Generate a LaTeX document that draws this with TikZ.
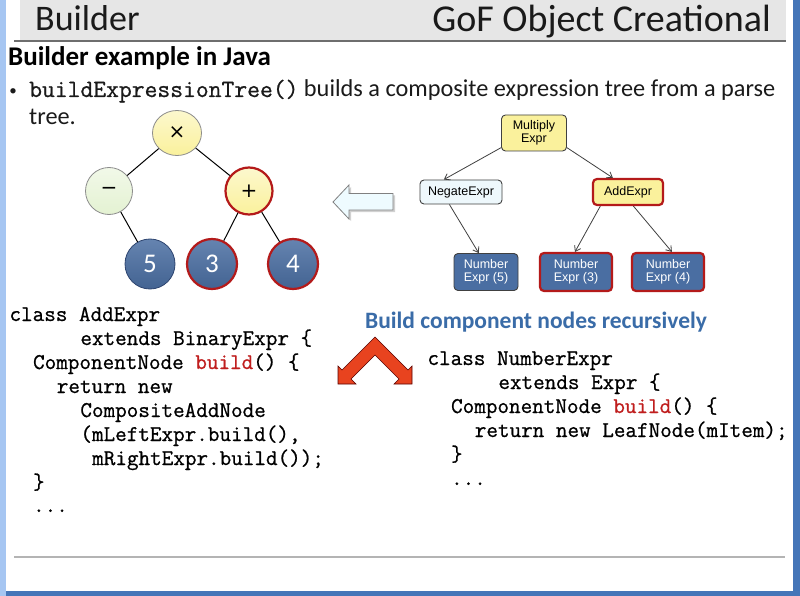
\documentclass[tikz,border=0pt]{standalone}
\usepackage{fontspec}
\setmainfont{Carlito}
\newfontfamily\monof[FakeBold=0.8]{Latin Modern Mono}
\newfontfamily\arialf{Liberation Sans}
\newfontfamily\symf{DejaVu Sans}
\usetikzlibrary{arrows.meta,shapes.geometric}
\definecolor{framelight}{HTML}{A6C6F2}
\definecolor{framedark}{HTML}{4575B8}
\definecolor{titlegray}{HTML}{E6E6E6}
\definecolor{ruledark}{HTML}{6E6E6E}
\definecolor{bottomrule}{HTML}{B4B4B4}
\definecolor{headblue}{HTML}{3A6CA8}
\definecolor{codered}{HTML}{C01E1E}
\definecolor{nodeyellow}{HTML}{FAF19C}
\definecolor{nodegreen}{HTML}{E4F2D2}
\definecolor{nodeblue}{HTML}{4A6EA2}
\definecolor{nodeblueedge}{HTML}{2E4570}
\definecolor{hired}{HTML}{B41A1A}
\definecolor{boxpale}{HTML}{EEF8FC}
\definecolor{hollowfill}{HTML}{EEFBFF}
\definecolor{chevron}{HTML}{E8431F}
\definecolor{textblack}{HTML}{1A1A1A}
\begin{document}
\begin{tikzpicture}[x=1pt,y=-1pt,
  txt/.style={anchor=base west, inner sep=0, text=textblack},
  code/.style={anchor=base west, inner sep=0, text=black, font=\monof\fontsize{22.5}{24}\selectfont},
  circ/.style={circle, minimum size=47, inner sep=0, draw=black!45, line width=0.8},
  ycirc/.style={circ, top color=nodeyellow!50!white, bottom color=nodeyellow, font=\symf\fontsize{20}{22}\selectfont},
  gcirc/.style={circ, top color=nodegreen!50!white, bottom color=nodegreen, font=\symf\fontsize{20}{22}\selectfont},
  bcirc/.style={circ, minimum size=50, top color=nodeblue!85!white, bottom color=nodeblue!90!black, draw=nodeblueedge, text=white, font=\fontsize{27}{28}\selectfont},
  hi/.style={draw=hired, line width=2.2},
  treeline/.style={draw=black, line width=1},
  rbox/.style={rectangle, rounded corners=4, draw=black!75, line width=0.9, align=center, inner sep=0, font=\arialf\fontsize{12.5}{13}\selectfont},
  tarrow/.style={draw=black!75, line width=0.8, -{Straight Barb[length=5pt,width=7pt]}}
]
\useasboundingbox (0,0) rectangle (800,596);
% frame and slide
\fill[framedark] (0,0) rectangle (800,596);
\fill[framelight] (0,0) rectangle (6,596);
\fill[white] (6,0) rectangle (793,591);
\fill[titlegray] (20,0) rectangle (786,40);
\draw[ruledark, line width=1.5] (14,41) -- (786,41);
\draw[bottomrule, line width=2] (14,557) -- (785,557);

% titles
\node[txt, font=\fontsize{36}{40}\selectfont] (title) at (35,31) {Builder};
\node[txt, anchor=base east, font=\fontsize{38}{40}\selectfont] (category) at (771,32) {GoF Object Creational};
\node[txt, font=\bfseries\fontsize{27}{30}\selectfont, text=black] (sub) at (8,66) {Builder example in Java};
\node[anchor=base, inner sep=0, font=\fontsize{15}{18}\selectfont, text=textblack] (bullet) at (13,96) {•};
\node[txt, font=\fontsize{24.3}{28}\selectfont] (line1) at (29,97) {{\monof\fontsize{24.9}{26}\selectfont buildExpressionTree()} builds a composite expression tree from a parse};
\node[txt, font=\fontsize{24.3}{28}\selectfont] (line2) at (29,125) {tree.};

% expression tree (circles)
\node[ycirc, ellipse, minimum width=49, minimum height=45] (tmul) at (177,133) {×};
\node[gcirc] (tneg) at (109,191) {−};
\node[ycirc, hi] (tadd) at (249,191) {+};
\node[bcirc] (t5) at (150,264) {5};
\node[bcirc, hi] (t3) at (212,264) {3};
\node[bcirc, hi] (t4) at (293,264) {4};
\draw[treeline] (tmul) -- (tneg);
\draw[treeline] (tmul) -- (tadd);
\draw[treeline] (tneg) -- (t5);
\draw[treeline] (tadd) -- (t3);
\draw[treeline] (tadd) -- (t4);

% hollow arrow
\fill[black!18] (335,204) -- (351,187) -- (351,195.5) -- (395,195.5) -- (395,212) -- (351,212) -- (351,221) -- cycle;
\draw[fill=hollowfill, draw=black!50, line width=0.8] (333,202) -- (349,185) -- (349,193.5) -- (393,193.5) -- (393,210) -- (349,210) -- (349,219) -- cycle;

% parse tree (boxes)
\node[rbox, fill=nodeyellow, minimum width=65, minimum height=36] (mul) at (534,133) {Multiply\\Expr};
\node[rbox, fill=boxpale, minimum width=82, minimum height=24] (neg) at (461,192) {NegateExpr};
\node[rbox, fill=nodeyellow, hi, minimum width=70, minimum height=26] (add) at (628,192) {AddExpr};
\node[rbox, fill=nodeblue, text=white, minimum width=64, minimum height=37] (n5) at (486,272) {Number\\Expr (5)};
\node[rbox, fill=nodeblue, text=white, hi, minimum width=72, minimum height=38] (n3) at (576,272) {Number\\Expr (3)};
\node[rbox, fill=nodeblue, text=white, hi, minimum width=72, minimum height=38] (n4) at (668,272) {Number\\Expr (4)};
\draw[tarrow] (mul.204) -- (neg.144);
\draw[tarrow] (mul.336) -- (add.137);
\draw[tarrow] (neg.227) -- (n5.111);
\draw[tarrow] (add.207) -- (n3.93);
\draw[tarrow] (add.291) -- (n4.79);

% heading
\node[anchor=base, inner sep=0, font=\bfseries\fontsize{23.5}{26}\selectfont, text=headblue] (hdr) at (536,328) {Build component nodes recursively};

% chevron arrow
\draw[fill=chevron, draw=red!35!black, line width=0.6] (375,337) -- (342,370) -- (338,366) -- (338,384) -- (356,384) -- (351,379) -- (375,355) -- (399,379) -- (394,384) -- (412,384) -- (412,366) -- (408,370) -- cycle;

% left code
\node[code] (a1) at (9.3,321) {class AddExpr};
\node[code] (a2) at (80.2,345) {extends BinaryExpr \{};
\node[code] (a3) at (32.9,369) {ComponentNode {\color{codered}build}() \{};
\node[code] (a4) at (56.6,393) {return new};
\node[code] (a5) at (80.2,417) {CompositeAddNode};
\node[code] (a6) at (80.2,441) {(mLeftExpr.build(),};
\node[code] (a7) at (92.0,465) {mRightExpr.build());};
\node[code] (a8) at (32.9,489) {\}};
\node[code] (a9) at (32.9,512) {...};

% right code
\node[code] (b1) at (427.3,365) {class NumberExpr};
\node[code] (b2) at (498.2,389) {extends Expr \{};
\node[code] (b3) at (450.9,413) {ComponentNode {\color{codered}build}() \{};
\node[code] (b4) at (474.6,437) {return new LeafNode(mItem);};
\node[code] (b5) at (450.9,461) {\}};
\node[code] (b6) at (450.9,485) {...};
\end{tikzpicture}
\end{document}
